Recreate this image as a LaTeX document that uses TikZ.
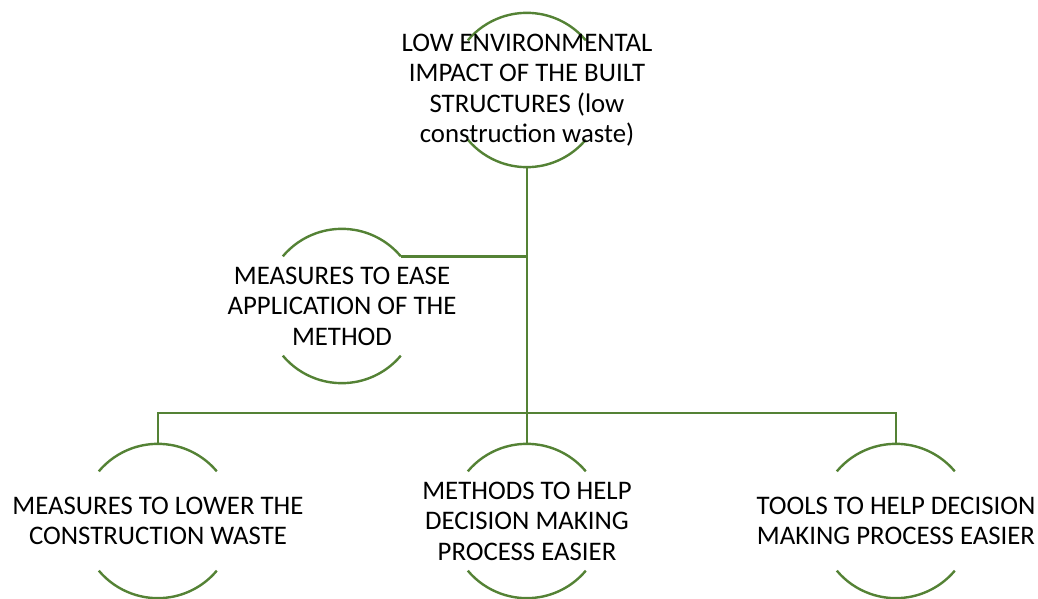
\documentclass[tikz,border=0pt]{standalone}
\usepackage{fontspec}
\setmainfont{Carlito}
\usetikzlibrary{backgrounds}
\definecolor{leafgreen}{RGB}{84,130,53}
\tikzset{
  ring/.style={circle, minimum size=115.5pt, inner sep=0pt},
  ringtext/.style={align=center, inner sep=0pt, font=\fontsize{20.1}{22.8}\selectfont},
  branch/.style={draw=leafgreen, line width=1.8pt}
}

\begin{document}
\begin{tikzpicture}[x=0.75pt,y=0.75pt,yscale=-1]
\useasboundingbox (0,0) rectangle (1038,599);

%Circles
\node[ring] (goal) at (527,90) {};
\node[ring] (ease) at (342,306) {};
\node[ring] (lower) at (158,521) {};
\node[ring] (methods) at (527,521) {};
\node[ring] (tools) at (896,521) {};

%Texts
\node[ringtext] (goal-txt) at (goal.center) {LOW ENVIRONMENTAL\\IMPACT OF THE BUILT\\STRUCTURES (low\\construction waste)};
\node[ringtext] (ease-txt) at (ease.center) {MEASURES TO EASE\\APPLICATION OF THE\\METHOD};
\node[ringtext] (lower-txt) at (lower.center) {MEASURES TO LOWER THE\\CONSTRUCTION WASTE};
\node[ringtext] (methods-txt) at (methods.center) {METHODS TO HELP\\DECISION MAKING\\PROCESS EASIER};
\node[ringtext] (tools-txt) at (tools.center) {TOOLS TO HELP DECISION\\MAKING PROCESS EASIER};

\begin{pgfonlayer}{background}
%Arcs
\foreach \n in {goal,ease,lower,methods,tools}{
  \draw[branch] (\n.140) arc[start angle=220, end angle=320, radius=77];
  \draw[branch] (\n.220) arc[start angle=140, end angle=40, radius=77];
}
\end{pgfonlayer}

%Connectors
\coordinate (bar) at (527,413);
\draw[branch] (goal.south) -- (methods.north);
\draw[branch] (ease.40) -- (ease.40 -| goal.south);
\draw[branch] (lower.north) |- (bar) -| (tools.north);

\end{tikzpicture}
\end{document}
